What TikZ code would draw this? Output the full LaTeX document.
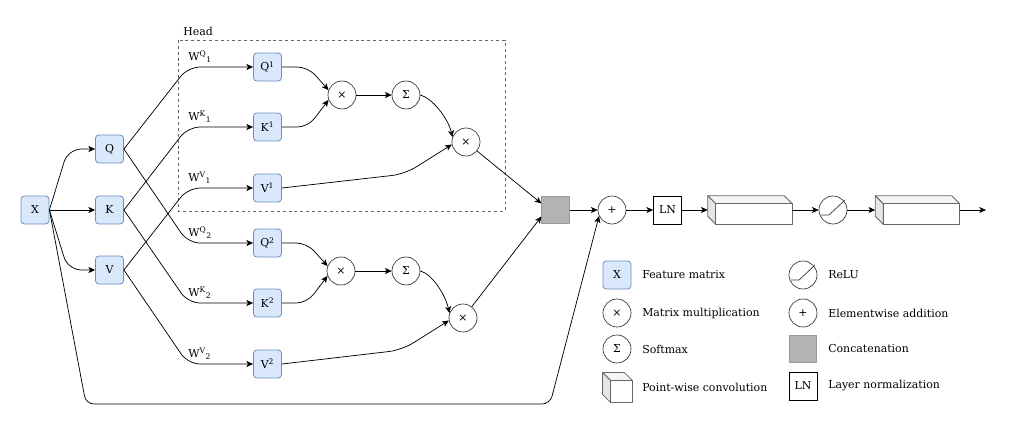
\documentclass[tikz,border=0pt]{standalone}
\usepackage{fontspec}
\setmainfont{DejaVu Serif}
\usetikzlibrary{arrows.meta,calc}
\definecolor{bfill}{HTML}{DAE8FC}
\definecolor{bdraw}{HTML}{6C8EBF}
\definecolor{opline}{HTML}{333333}
\definecolor{cubeline}{HTML}{666666}
\definecolor{cubetop}{HTML}{F5F5F5}
\definecolor{cubeside}{HTML}{E6E6E6}
\definecolor{catfill}{HTML}{B3B3B3}
\definecolor{catdraw}{HTML}{999999}
\definecolor{headline}{HTML}{666666}
\newcommand{\drawcube}[2]{% node name, offset
  \filldraw[fill=cubetop,draw=cubeline,line width=0.6pt,line join=round]
    (#1.north west) -- ($(#1.north east)+(-#2,0)$) -- ($(#1.north east)+(0,#2)$) -- ($(#1.north west)+(#2,#2)$) -- cycle;
  \filldraw[fill=cubeside,draw=cubeline,line width=0.6pt,line join=round]
    (#1.north west) -- ($(#1.north west)+(#2,#2)$) -- ($(#1.south west)+(#2,0)$) -- ($(#1.south west)+(0,-#2)$) -- cycle;
  \filldraw[fill=white,draw=cubeline,line width=0.6pt,line join=round]
    ($(#1.north west)+(#2,#2)$) rectangle (#1.south east);
}
\begin{document}
\begin{tikzpicture}[x=0.75pt,y=-0.75pt,
  font=\fontsize{8.2}{10}\selectfont,
  mat/.style={draw=bdraw,fill=bfill,rounded corners=2.5pt,minimum size=21pt,inner sep=0pt,line width=0.6pt},
  op/.style={circle,draw=opline,fill=white,minimum size=21pt,inner sep=0pt,line width=0.5pt},
  cat/.style={draw=catdraw,fill=catfill,minimum size=20.5pt,inner sep=0pt,line width=0.6pt},
  lnbox/.style={draw=black,fill=white,minimum size=21pt,inner sep=0pt,line width=0.5pt},
  cubebox/.style={minimum width=63pt,minimum height=21pt,inner sep=0pt},
  arr/.style={draw=black,line width=0.55pt,-{Stealth[length=5pt,width=4.5pt,inset=1.2pt]}},
  wlab/.style={anchor=base west,inner sep=0pt},
  txt/.style={anchor=west,inner sep=0pt},
]
\useasboundingbox (0,0) rectangle (1015,430);

% head box
\draw[draw=headline,line width=0.7pt,dash pattern=on 2.2pt off 2.2pt] (178,40) rectangle (505,211);
\node[anchor=base west,inner sep=0pt] (head) at (183,35) {Head};

% input and projections
\node[mat] (X) at (35,210) {X};
\node[mat] (Q) at (109.5,149) {Q};
\node[mat] (K) at (109.5,210) {K};
\node[mat] (V) at (109.5,270) {V};

\node[mat] (Q1) at (267.5,67) {Q\textsuperscript{1}};
\node[mat] (K1) at (267.5,127) {K\textsuperscript{1}};
\node[mat] (V1) at (267.5,188) {V\textsuperscript{1}};
\node[mat] (Q2) at (267.5,243) {Q\textsuperscript{2}};
\node[mat] (K2) at (267.5,303) {K\textsuperscript{2}};
\node[mat] (V2) at (267.5,364) {V\textsuperscript{2}};

\node[op] (m1) at (342,95) {×};
\node[op] (s1) at (406,95) {Σ};
\node[op] (p1) at (466,142) {×};
\node[op] (m2) at (341,271) {×};
\node[op] (s2) at (406,271) {Σ};
\node[op] (p2) at (463,318) {×};

\node[cat] (C) at (555.5,210) {};
\node[op] (plus) at (612,210) {+};
\node[lnbox] (LN) at (667.5,210) {LN};
\node[cubebox] (cv1) at (750,210) {};
\drawcube{cv1}{8}
\node[op] (relu) at (833,210) {};
\draw[draw=opline,line width=0.5pt] ($(relu.center)+(-12,5)$) -- ($(relu.center)+(-4,5)$) -- ($(relu.center)+(12,-10)$);
\node[cubebox] (cv2) at (917.5,210) {};
\drawcube{cv2}{8}
\coordinate (out) at (986,210);

% X to Q K V
\draw[arr,rounded corners=10pt] (X.east) -- (68,149) -- (Q.west);
\draw[arr] (X) -- (K);
\draw[arr,rounded corners=10pt] (X.east) -- (68,270) -- (V.west);

% projections
\draw[arr,rounded corners=9pt] (Q.east) -- (188,67) -- (Q1.west);
\draw[arr,rounded corners=9pt] (K.east) -- (188,127) -- (K1.west);
\draw[arr,rounded corners=9pt] (V.east) -- (188,188) -- (V1.west);
\draw[arr,rounded corners=9pt] (Q.east) -- (188,243) -- (Q2.west);
\draw[arr,rounded corners=9pt] (K.east) -- (188,303) -- (K2.west);
\draw[arr,rounded corners=9pt] (V.east) -- (188,364) -- (V2.west);

\node[wlab] (wq1) at (188,60) {W\textsuperscript{Q}\textsubscript{1}};
\node[wlab] (wk1) at (188,120) {W\textsuperscript{K}\textsubscript{1}};
\node[wlab] (wv1) at (188,181) {W\textsuperscript{V}\textsubscript{1}};
\node[wlab] (wq2) at (188,236) {W\textsuperscript{Q}\textsubscript{2}};
\node[wlab] (wk2) at (188,296) {W\textsuperscript{K}\textsubscript{2}};
\node[wlab] (wv2) at (188,357) {W\textsuperscript{V}\textsubscript{2}};

% head 1
\draw[arr,rounded corners=8pt] (Q1.east) -- (308,67) -- (m1.160);
\draw[arr,rounded corners=8pt] (K1.east) -- (308,127) -- (m1.200);
\draw[arr] (m1) -- (s1);
\draw[arr] (s1.east) .. controls (432,98) and (448,118) .. (p1.160);
\draw[arr,rounded corners=10pt] (V1.east) -- (405,174) -- (p1.190);
% head 2
\draw[arr,rounded corners=8pt] (Q2.east) -- (307,243) -- (m2.160);
\draw[arr,rounded corners=8pt] (K2.east) -- (307,303) -- (m2.200);
\draw[arr] (m2) -- (s2);
\draw[arr] (s2.east) .. controls (432,274) and (445,294) .. (p2.160);
\draw[arr,rounded corners=10pt] (V2.east) -- (402,350) -- (p2.190);

% to concat
\draw[arr] (p1) -- (C.155);
\draw[arr] (p2) -- (C.205);
\draw[arr] (C) -- (plus);
\draw[arr,rounded corners=6pt] (X.east) -- (86,404) -- (550,404) -- (plus.205);
\draw[arr] (plus) -- (LN);
\draw[arr] (LN) -- (cv1.west);
\draw[arr] (cv1.east) -- (relu);
\draw[arr] (relu) -- (cv2.west);
\draw[arr] (cv2.east) -- (out);

% legend
\node[mat] (lX) at (617,275) {X};
\node[txt] (tX) at (642,275) {Feature matrix};
\node[op] (lm) at (617,313) {×};
\node[txt] (tm) at (642,313) {Matrix multiplication};
\node[op] (ls) at (617,349) {Σ};
\node[txt] (ts) at (642,349) {Softmax};
\node[minimum size=22pt,inner sep=0pt] (lc) at (617.5,387.5) {};
\drawcube{lc}{8}
\node[txt] (tc) at (642,387) {Point-wise convolution};

\node[op] (lr) at (803,275) {};
\draw[draw=opline,line width=0.5pt] ($(lr.center)+(-12,5)$) -- ($(lr.center)+(-4,5)$) -- ($(lr.center)+(12,-10)$);
\node[txt] (tr) at (828,275) {ReLU};
\node[op] (lp) at (803,313) {+};
\node[txt] (tp) at (828,313) {Elementwise addition};
\node[cat] (lcat) at (803,349) {};
\node[txt] (tcat) at (828,349) {Concatenation};
\node[lnbox] (lln) at (803,386) {LN};
\node[txt] (tln) at (828,386) {Layer normalization};
\end{tikzpicture}
\end{document}
